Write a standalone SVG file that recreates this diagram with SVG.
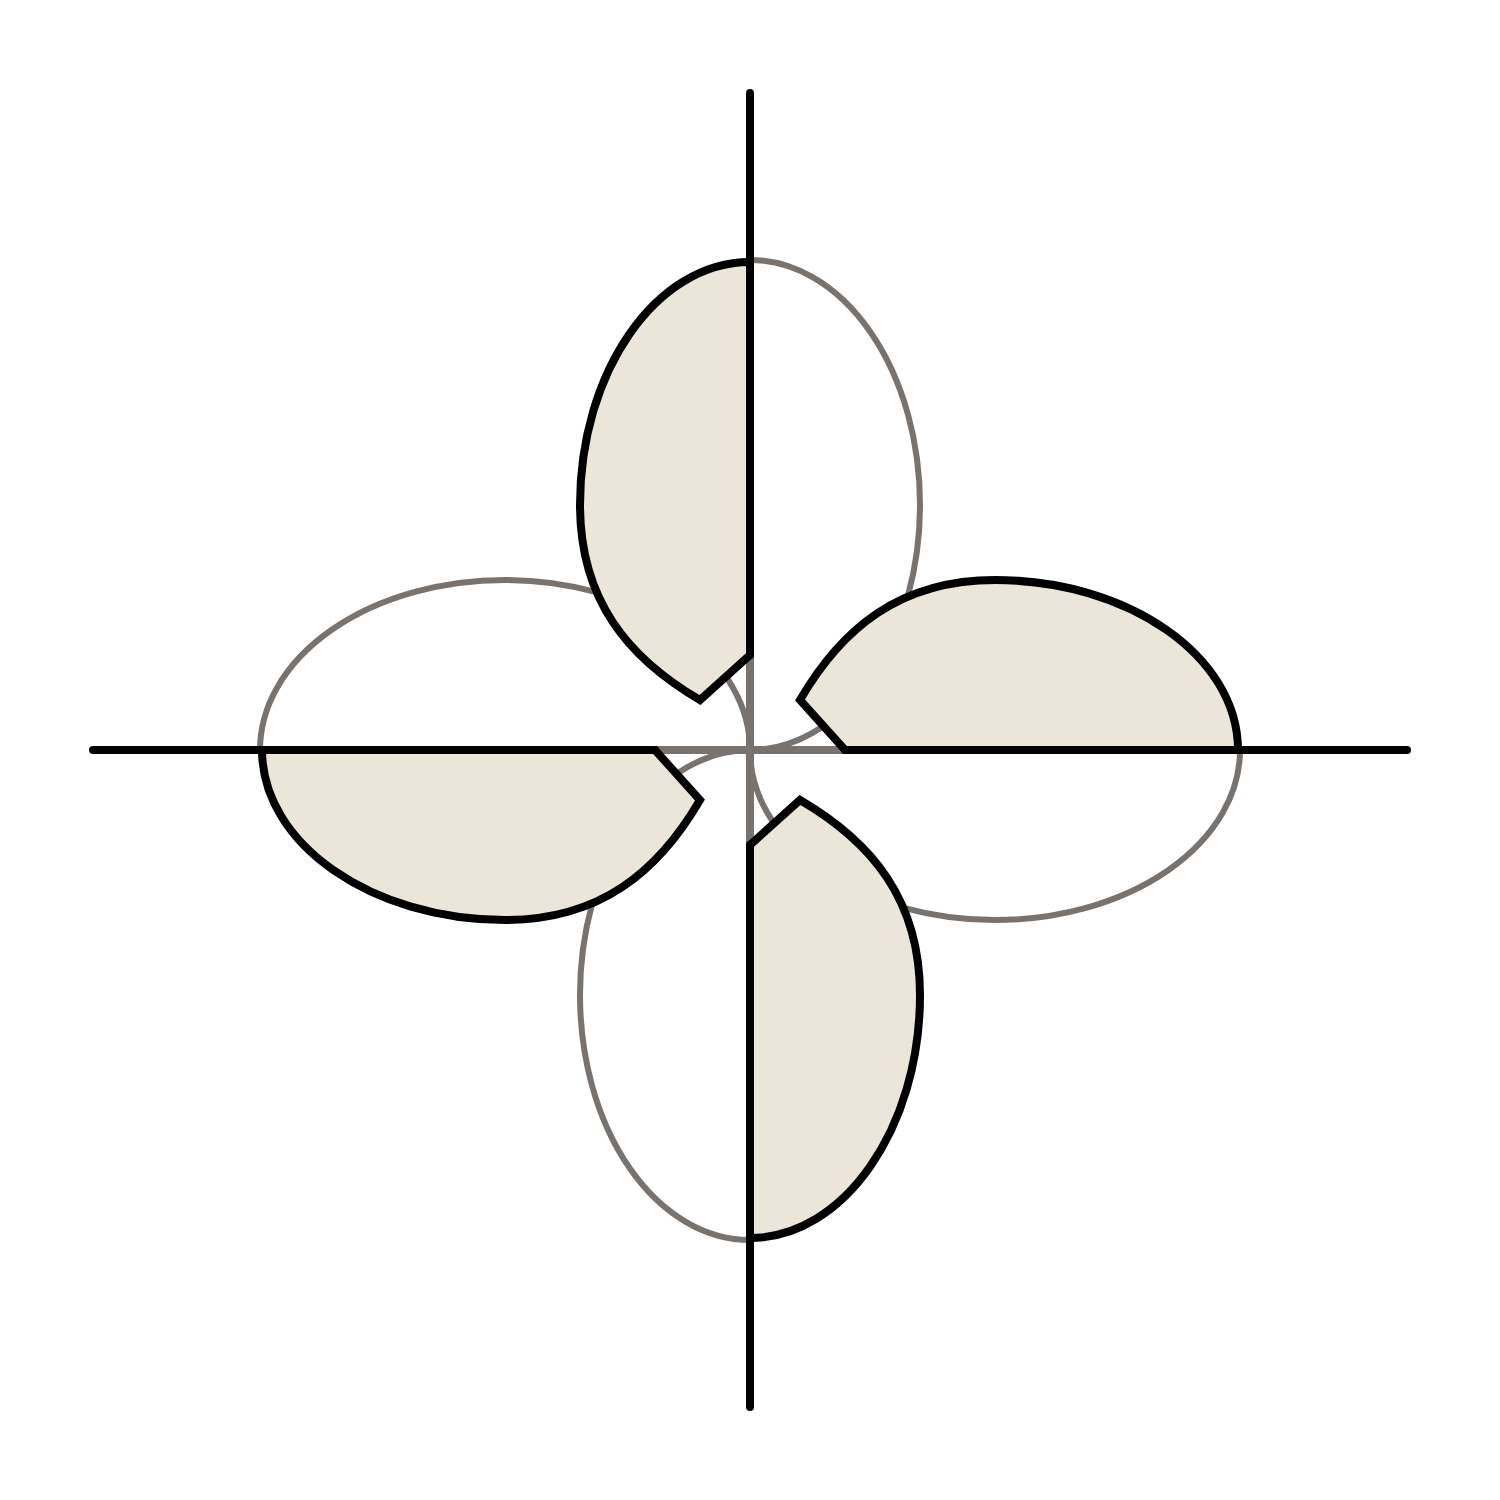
<svg xmlns="http://www.w3.org/2000/svg" xmlns:xlink="http://www.w3.org/1999/xlink" width="1500" height="1500" viewBox="0 0 1500 1500">
<style>
.half{fill:none;stroke:#78736f;stroke-width:6}
.shade{fill:#ebe5da;stroke:#000;stroke-width:8;stroke-linejoin:miter}
.axis{stroke:#000;stroke-width:8;stroke-linecap:round}
.axisc{stroke:#78736f;stroke-width:8}
</style>
<defs>
<path id="halfArc" class="half" d="M750,260 A170,245 0 0 1 750,750"/>
<path id="shadeShape" class="shade" d="M750,262 C656,262 580,372 580,505 C580,600 628,658 700,700 L750,655 Z"/>
</defs>
<rect width="1500" height="1500" fill="#fff"/>
<g id="connectors">
<line class="axisc" x1="750" y1="655" x2="750" y2="845"/>
<line class="axisc" x1="655" y1="750" x2="845" y2="750"/>
</g>
<g id="outlines">
<use xlink:href="#halfArc"/>
<use xlink:href="#halfArc" transform="rotate(90 750 750)"/>
<use xlink:href="#halfArc" transform="rotate(180 750 750)"/>
<use xlink:href="#halfArc" transform="rotate(270 750 750)"/>
</g>
<g id="petal-top"><use xlink:href="#shadeShape"/></g>
<g id="petal-right"><use xlink:href="#shadeShape" transform="rotate(90 750 750)"/></g>
<g id="petal-bottom"><use xlink:href="#shadeShape" transform="rotate(180 750 750)"/></g>
<g id="petal-left"><use xlink:href="#shadeShape" transform="rotate(270 750 750)"/></g>
<g id="axes">
<line class="axis" x1="750" y1="93" x2="750" y2="655"/>
<line class="axis" x1="750" y1="845" x2="750" y2="1407"/>
<line class="axis" x1="93" y1="750" x2="655" y2="750"/>
<line class="axis" x1="845" y1="750" x2="1407" y2="750"/>
</g>
</svg>
